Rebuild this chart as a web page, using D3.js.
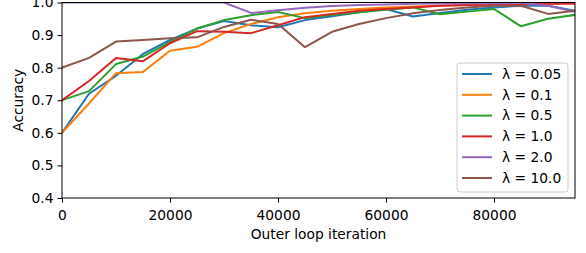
<!DOCTYPE html>
<html>
<head>
<meta charset="utf-8">
<script src="https://cdn.jsdelivr.net/npm/d3@7"></script>
<style>
  body { margin: 0; background: #fff; }
  svg { font-family: "DejaVu Sans", sans-serif; }
</style>
</head>
<body>
<div id="chart"></div>
<script>
// iterations, one point every 5000
var iterations = d3.range(0, 100000, 5000);

var labels = ["λ = 0.05", "λ = 0.1", "λ = 0.5", "λ = 1.0", "λ = 2.0", "λ = 10.0"];
var colors = ["#1f77b4", "#ff7f0e", "#2ca02c", "#d62728", "#9467bd", "#8c564b"];

var acc005 = [0.60, 0.72, 0.775, 0.842, 0.885, 0.92, 0.943, 0.93, 0.924, 0.946, 0.958, 0.97, 0.98, 0.957, 0.968, 0.978, 0.985, 0.99, 0.99, 0.975];
var acc01  = [0.60, 0.69, 0.783, 0.787, 0.852, 0.864, 0.906, 0.934, 0.955, 0.967, 0.975, 0.98, 0.985, 0.988, 0.99, 0.992, 0.994, 0.995, 0.996, 0.997];
var acc05  = [0.70, 0.728, 0.811, 0.834, 0.879, 0.92, 0.946, 0.961, 0.971, 0.952, 0.962, 0.97, 0.978, 0.985, 0.964, 0.972, 0.98, 0.927, 0.95, 0.962];
var acc10  = [0.70, 0.759, 0.83, 0.82, 0.875, 0.912, 0.91, 0.906, 0.93, 0.955, 0.965, 0.975, 0.98, 0.985, 0.99, 0.992, 0.994, 0.995, 0.996, 0.997];
var acc20  = [1.0, 1.0, 1.0, 1.0, 1.0, 1.0, 1.0, 0.968, 0.976, 0.984, 0.989, 0.992, 0.994, 0.996, 0.997, 0.998, 0.998, 0.999, 0.99, 0.972];
var acc100 = [0.80, 0.83, 0.88, 0.885, 0.89, 0.893, 0.925, 0.947, 0.934, 0.863, 0.91, 0.934, 0.952, 0.967, 0.977, 0.985, 0.99, 0.99, 0.965, 0.975];

var series = [acc005, acc01, acc05, acc10, acc20, acc100];

var yTicks = [0.4, 0.5, 0.6, 0.7, 0.8, 0.9, 1.0];
var xTicks = [0, 20000, 40000, 60000, 80000];

var W = 586, H = 253;
var m = {left: 62, right: 11, top: 2.5, bottom: 55};
var iw = W - m.left - m.right, ih = H - m.top - m.bottom;
var fs = 13.8;

var svg = d3.select("#chart").append("svg")
    .attr("width", W)
    .attr("height", H);

var x = d3.scaleLinear().domain([0, 95000]).range([0, iw]);
var y = d3.scaleLinear().domain([0.4, 1.0]).range([ih, 0]);

var g = svg.append("g").attr("transform", "translate(" + m.left + "," + m.top + ")");

g.append("clipPath").attr("id", "clip")
  .append("rect").attr("width", iw).attr("height", ih);

var line = d3.line()
    .x(function(d, i) { return x(iterations[i]); })
    .y(function(d) { return y(d); });

g.append("g").attr("clip-path", "url(#clip)")
  .selectAll("path")
  .data(series)
  .enter().append("path")
    .attr("d", line)
    .attr("fill", "none")
    .attr("stroke", function(d, i) { return colors[i]; })
    .attr("stroke-width", 2)
    .attr("stroke-linejoin", "round")
    .attr("stroke-linecap", "square");

// axes
var xAxis = g.append("g")
    .attr("transform", "translate(0," + ih + ")")
    .call(d3.axisBottom(x).tickValues(xTicks).tickFormat(d3.format("d")).tickSize(4.5).tickPadding(7.5));
var yAxis = g.append("g")
    .call(d3.axisLeft(y).tickValues(yTicks).tickFormat(d3.format(".1f")).tickSize(4.5).tickPadding(4));

[xAxis, yAxis].forEach(function(a) {
    a.select(".domain").remove();
    a.selectAll("line").attr("stroke", "#000").attr("stroke-width", 1);
    a.selectAll("text").attr("font-size", fs).attr("fill", "#000")
      .attr("font-family", "DejaVu Sans");
});

// frame
g.append("rect")
    .attr("width", iw).attr("height", ih)
    .attr("fill", "none").attr("stroke", "#000").attr("stroke-width", 1);

svg.append("text")
    .attr("x", m.left + iw / 2).attr("y", 239)
    .attr("text-anchor", "middle").attr("font-size", fs)
    .text("Outer loop iteration");

svg.append("text")
    .attr("transform", "translate(23," + (m.top + ih / 2) + ") rotate(-90)")
    .attr("text-anchor", "middle").attr("font-size", fs)
    .text("Accuracy");

// legend
var lg = svg.append("g").attr("transform", "translate(457,63)");
lg.append("rect")
    .attr("width", 111).attr("height", 129).attr("rx", 3)
    .attr("fill", "#fff").attr("fill-opacity", 0.8)
    .attr("stroke", "#ccc").attr("stroke-width", 1);
var items = lg.selectAll("g.item").data(labels).enter().append("g")
    .attr("class", "item")
    .attr("transform", function(d, i) { return "translate(0," + (11 + i * 20.8) + ")"; });
items.append("line")
    .attr("x1", 5).attr("x2", 35)
    .attr("stroke", function(d, i) { return colors[i]; })
    .attr("stroke-width", 2);
items.append("text")
    .attr("x", 45).attr("dy", "0.35em").attr("font-size", fs)
    .text(function(d) { return d; });
</script>
</body>
</html>
